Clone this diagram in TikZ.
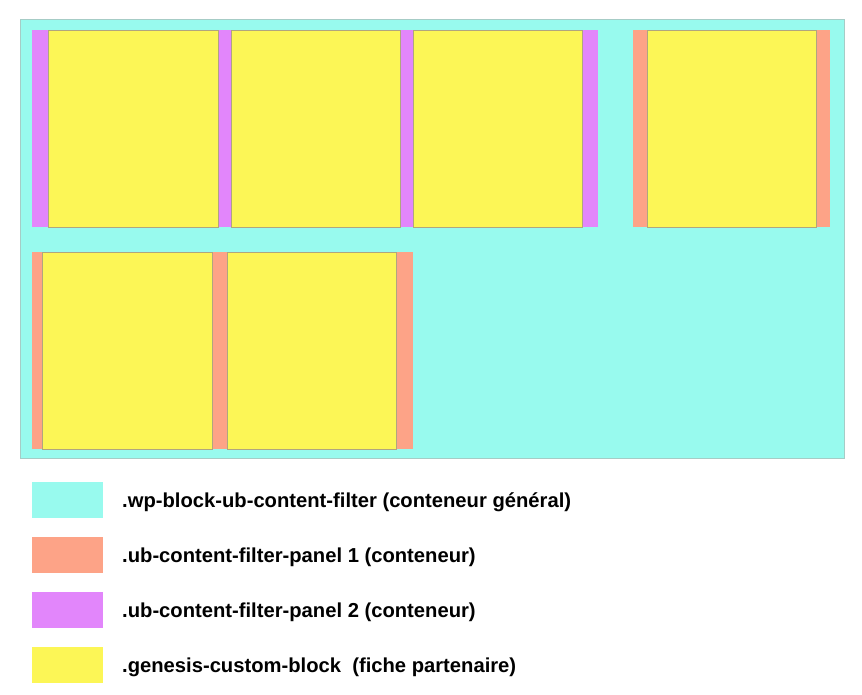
\documentclass[tikz,border=0pt]{standalone}
\usepackage{fontspec}
\setmainfont{Liberation Sans}
\definecolor{cyanbg}{HTML}{98FAEE}
\definecolor{cyanline}{HTML}{A6CCC6}
\definecolor{salmon}{HTML}{FDA387}
\definecolor{violet}{HTML}{E286FB}
\definecolor{jaune}{HTML}{FCF656}
\definecolor{jauneline}{HTML}{B0A67E}
\tikzset{
  outerbox/.style={fill=cyanbg,draw=cyanline,line width=0.8pt},
  panelone/.style={fill=salmon},
  paneltwo/.style={fill=violet},
  fiche/.style={fill=jaune,draw=jauneline,line width=0.7pt},
  swatch/.style={minimum width=71pt,minimum height=36pt,inner sep=0pt,anchor=north west},
  legtext/.style={anchor=base west,inner sep=0pt,font=\bfseries\fontsize{20.2}{23}\selectfont}
}
\begin{document}
\begin{tikzpicture}[x=1pt,y=-1pt]
\useasboundingbox (0,0) rectangle (862,695);
\fill[white] (0,0) rectangle (862,695);
% general container
\draw[outerbox] (20,19) rectangle (844,458);
% panel 2 (row 1)
\fill[paneltwo] (32,30) rectangle (598,227);
\draw[fiche] (48,30) rectangle (218,227);
\draw[fiche] (231,30) rectangle (400,227);
\draw[fiche] (413,30) rectangle (582,227);
% panel 1 (row 1, right)
\fill[panelone] (633,30) rectangle (830,227);
\draw[fiche] (647,30) rectangle (816,227);
% panel 1 (row 2)
\fill[panelone] (32,252) rectangle (413,449);
\draw[fiche] (42,252) rectangle (212,449);
\draw[fiche] (227,252) rectangle (396,449);
% legend
\node[swatch,fill=cyanbg] (s1) at (32,482) {};
\node[swatch,fill=salmon] (s2) at (32,537) {};
\node[swatch,fill=violet] (s3) at (32,592) {};
\node[swatch,fill=jaune] (s4) at (32,647) {};
\node[legtext] (t1) at (122,507) {.wp-block-ub-content-filter (conteneur général)};
\node[legtext] (t2) at (122,562) {.ub-content-filter-panel 1 (conteneur)};
\node[legtext] (t3) at (122,617) {.ub-content-filter-panel 2 (conteneur)};
\node[legtext] (t4) at (122,672) {.genesis-custom-block\ \ (fiche partenaire)};
\end{tikzpicture}
\end{document}
